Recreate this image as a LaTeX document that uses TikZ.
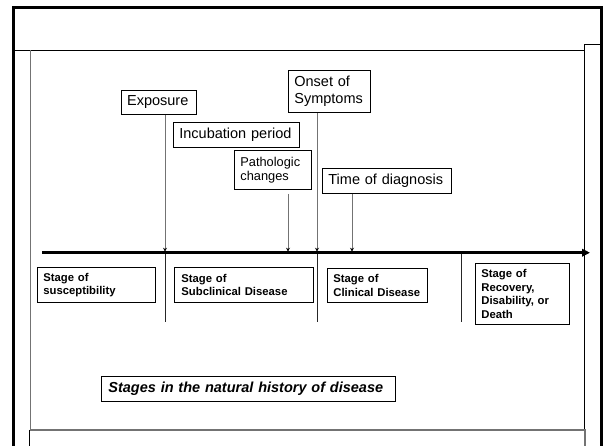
\documentclass[tikz,border=0pt]{standalone}
\usepackage{fontspec}
\setmainfont{Liberation Sans}
\usetikzlibrary{arrows.meta}
\begin{document}
\begin{tikzpicture}[x=1pt,y=-1pt,
  lbl/.style={draw, line width=0.8pt, anchor=north west, align=left, inner xsep=6pt, inner ysep=0pt, font=\fontsize{14.5}{16.5}\selectfont},
  stg/.style={draw, line width=0.8pt, anchor=north west, align=left, inner xsep=6pt, inner ysep=0pt, font=\bfseries\fontsize{11.3}{13.4}\selectfont},
  conn/.style={draw=black!55, line width=0.8pt, -{Stealth[length=4pt,width=4pt,black]}},
  divider/.style={draw=black!85, line width=0.9pt},
  frame/.style={draw=black, line width=3pt},
  thin/.style={draw=black, line width=1pt},
  thingray/.style={draw=black!55, line width=1.2pt},
]
\useasboundingbox (0,0) rectangle (609,446);
% frames
\draw[frame] (13,446) -- (13,7.5) -- (601.5,7.5) -- (601.5,446);
\draw[thin] (13,50.5) -- (584,50.5);
\draw[thingray] (30.5,50.5) -- (30.5,429.5);
\draw[thin] (584,446) -- (584,45) -- (601.5,45);
\draw[thingray] (29.6,430) -- (585,430) -- (585,446);
\draw[thin] (29.6,430) -- (29.6,446);

% label boxes
\node[lbl, minimum width=75pt, minimum height=24pt, text width=63pt] (exp) at (120.7,90) {Exposure};
\node[lbl, minimum width=126pt, minimum height=25pt, text width=114pt] (inc) at (173,122) {Incubation period};
\node[lbl, minimum width=77pt, minimum height=39pt, text width=65pt, font=\fontsize{12.8}{14.2}\selectfont] (pat) at (234,150) {Pathologic\\changes};
\node[lbl, minimum width=82pt, minimum height=42pt, text width=70pt] (ons) at (288,70) {Onset of\\Symptoms};
\node[lbl, minimum width=129pt, minimum height=25pt, text width=117pt] (dia) at (322,168) {Time of diagnosis};

% stage boxes
\node[stg, minimum width=118pt, minimum height=35pt, text width=106pt] (s1) at (37,267) {Stage of\\susceptibility};
\node[stg, minimum width=139pt, minimum height=35pt, text width=125pt, inner xsep=7pt] (s2) at (174,267) {Stage of\\Subclinical Disease};
\node[stg, minimum width=100pt, minimum height=34pt, text width=88pt] (s3) at (327,268) {Stage of\\Clinical Disease};
\node[stg, minimum width=94pt, minimum height=61pt, text width=82pt] (s4) at (475,263) {Stage of\\Recovery,\\Disability, or\\Death};

% caption
\node[stg, minimum width=294pt, minimum height=25pt, text width=280pt, inner xsep=7pt, font=\bfseries\itshape\fontsize{14.5}{16.5}\selectfont] (cap) at (101,375.7) {Stages in the natural history of disease};

% timeline coordinates
\coordinate (t0) at (42,252.7);
\coordinate (t1) at (590,252.7);
\coordinate (e1) at (165,252.7);
\coordinate (p1) at (288,252.7);
\coordinate (o1) at (317,252.7);
\coordinate (d1) at (352,252.7);
\coordinate (r1) at (461,252.7);
\coordinate (e2) at (165,322);
\coordinate (o2) at (317,322);
\coordinate (r2) at (461,322);

% connectors
\draw[conn, shorten >=1pt] (exp.south -| e1) -- (e1);
\draw[conn, shorten >=1pt, shorten <=4pt] (pat.south -| p1) -- (p1);
\draw[conn, shorten >=1pt] (ons.south -| o1) -- (o1);
\draw[conn, shorten >=1pt] (dia.south -| d1) -- (d1);

% dividers
\draw[divider] (e1) -- (e2);
\draw[divider] (o1) -- (o2);
\draw[divider] (r1) -- (r2);

% timeline
\draw[line width=3.5pt, -{Triangle[length=8pt,width=7.5pt]}] (t0) -- (t1);
\end{tikzpicture}
\end{document}
